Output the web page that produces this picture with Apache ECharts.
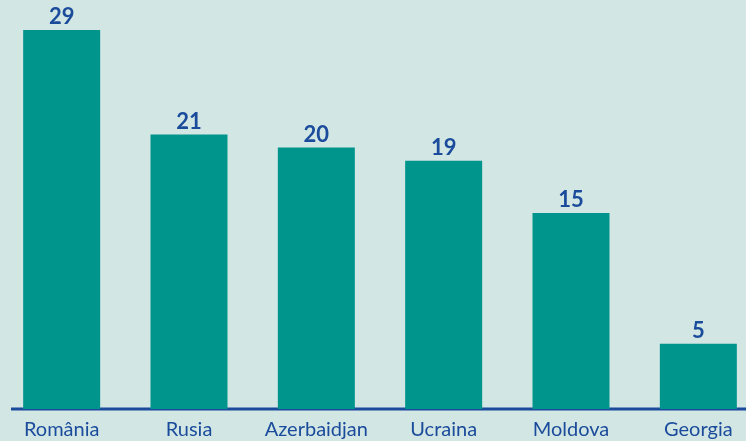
<!DOCTYPE html>
<html>
<head>
<meta charset="utf-8">
<script src="https://cdn.jsdelivr.net/npm/echarts@6/dist/echarts.min.js"></script>
<style>
  html, body { margin: 0; padding: 0; background: #d2e6e4; }
  #chart { width: 746px; height: 441px; }
</style>
</head>
<body>
<div id="chart"></div>
<script>
// data
const countries = ['România', 'Rusia', 'Azerbaidjan', 'Ucraina', 'Moldova', 'Georgia']
const values = [29, 21, 20, 19, 15, 5]

const textBlue = '#1b4b9b'

const chart = echarts.init(document.getElementById('chart'))
const option = {
  backgroundColor: '#d2e6e4',
  animation: false,
  grid: { left: -2, width: 764, top: 30, bottom: 32, outerBoundsMode: 'none', containLabel: false },
  xAxis: {
    type: 'category',
    data: countries,
    axisLine: { show: false },
    axisTick: { show: false },
    axisLabel: {
      interval: 0,
      hideOverlap: false,
      color: textBlue,
      fontFamily: 'Lato',
      fontSize: 20,
      margin: 11
    }
  },
  yAxis: {
    type: 'value',
    min: 0,
    max: 29,
    show: false,
    splitLine: { show: false }
  },
  series: [
    {
      type: 'bar',
      data: values,
      barWidth: 77,
      itemStyle: { color: '#00958c' },
      label: {
        show: true,
        position: 'top',
        distance: 2,
        color: textBlue,
        fontFamily: 'Lato',
        fontWeight: 'bold',
        fontSize: 22
      }
    }
  ],
  graphic: [
    {
      type: 'line',
      shape: { x1: 11, y1: 409, x2: 746, y2: 409 },
      style: { stroke: '#1b4b9b', lineWidth: 3 }
    }
  ]
}
chart.setOption(option)
</script>
</body>
</html>
